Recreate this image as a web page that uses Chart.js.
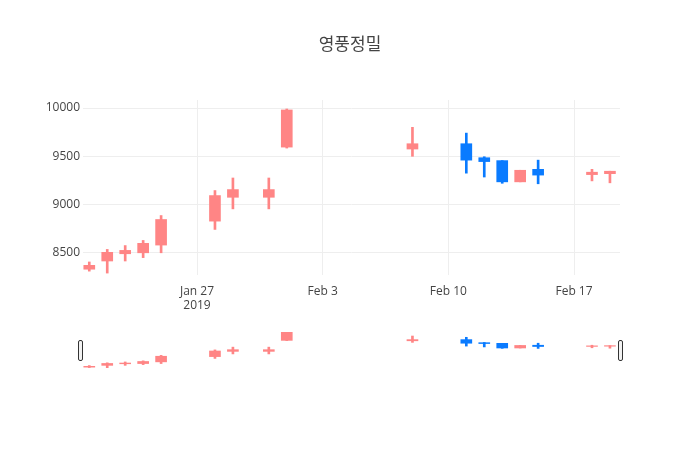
<!DOCTYPE html>
<html>
<head>
<meta charset="utf-8">
<script src="https://cdn.jsdelivr.net/npm/chart.js@4"></script>
<style>
  body { margin: 0; background: #fff; }
  #wrap { position: relative; width: 700px; height: 450px; }
  #main { position: absolute; left: 0; top: 0; }
  #slider { position: absolute; left: 0; top: 328px; }
</style>
</head>
<body>
<div id="wrap">
  <canvas id="main" width="700" height="310"></canvas>
  <canvas id="slider" width="700" height="46"></canvas>
</div>
<script>
// candlestick data
const dates = ['2019-01-21', '2019-01-22', '2019-01-23', '2019-01-24', '2019-01-25',
  '2019-01-28', '2019-01-29', '2019-01-31', '2019-02-01', '2019-02-08',
  '2019-02-11', '2019-02-12', '2019-02-13', '2019-02-14', '2019-02-15',
  '2019-02-18', '2019-02-19'];
const opens  = [8330, 8415, 8490, 8500, 8580, 8828, 9075, 9075, 9595, 9575, 9630, 9485, 9455, 9235, 9365, 9310, 9320];
const highs  = [8405, 8535, 8575, 8628, 8886, 9145, 9275, 9275, 9990, 9800, 9740, 9495, 9455, 9355, 9460, 9365, 9345];
const lows   = [8310, 8290, 8415, 8450, 8500, 8742, 8955, 8955, 9585, 9500, 9325, 9285, 9220, 9235, 9215, 9245, 9225];
const closes = [8370, 8505, 8525, 8598, 8845, 9093, 9155, 9155, 9980, 9630, 9460, 9445, 9235, 9355, 9305, 9335, 9345];
const xTicks = ['2019-01-27', '2019-02-03', '2019-02-10', '2019-02-17'];
const yTicks = [8500, 9000, 9500, 10000];

const DAY = 86400000;
const t = d => Date.parse(d + 'T00:00:00Z');
const xs = dates.map(t);
const xMin = t('2019-01-20') + 0.65 * DAY;
const xMax = t('2019-02-19') + 0.56 * DAY;
const UP = '#ff8585', DOWN = '#0a7bff';
const colors = opens.map((o, i) => closes[i] >= o ? UP : DOWN);
const months = ['Jan', 'Feb', 'Mar'];

function datasets(bodyW, wickW) {
  return [
    { data: xs.map((x, i) => ({ x: x, y: [lows[i], highs[i]] })), backgroundColor: colors,
      barThickness: wickW, grouped: false, order: 2 },
    { data: xs.map((x, i) => ({ x: x, y: [opens[i], closes[i]] })), backgroundColor: colors,
      barThickness: bodyW, grouped: false, order: 1 }
  ];
}

const titlePlugin = {
  id: 'titleText',
  afterDraw(chart) {
    const c = chart.ctx;
    c.save();
    c.fillStyle = '#444';
    c.font = '17px "Noto Sans CJK KR"';
    c.textAlign = 'center';
    c.textBaseline = 'middle';
    c.fillText('영풍정밀', 350, 44);
    c.restore();
  }
};

new Chart(document.getElementById('main'), {
  type: 'bar',
  data: { datasets: datasets(11, 2) },
  plugins: [titlePlugin],
  options: {
    responsive: false, animation: false,
    layout: { padding: { top: 100, right: 80, left: 0, bottom: 0 } },
    plugins: { legend: { display: false }, tooltip: { enabled: false } },
    scales: {
      x: {
        type: 'linear', min: xMin, max: xMax, offset: false,
        afterBuildTicks: s => { s.ticks = xTicks.map(d => ({ value: t(d) })); },
        afterFit: s => { s.height = 35; },
        grid: { color: '#eee', drawTicks: false, offset: false },
        border: { display: false },
        ticks: {
          color: '#444', font: { family: 'Open Sans', size: 12 }, padding: 9,
          callback: v => {
            const d = new Date(v);
            const lbl = months[d.getUTCMonth()] + ' ' + d.getUTCDate();
            return d.getUTCDate() === 27 ? [lbl, '2019'] : lbl;
          }
        }
      },
      y: {
        min: 8270, max: 10083,
        afterBuildTicks: s => { s.ticks = yTicks.map(v => ({ value: v })); },
        afterFit: s => { s.width = 83; },
        grid: { color: '#eee', drawTicks: false },
        border: { display: false },
        ticks: { color: '#444', font: { family: 'Open Sans', size: 12 }, padding: 3,
          callback: v => String(v) }
      }
    }
  }
});

const handlePlugin = {
  id: 'handles',
  afterDraw(chart) {
    const c = chart.ctx;
    c.save();
    c.strokeStyle = '#333';
    c.fillStyle = '#f2f2f2';
    c.lineWidth = 1;
    [78.5, 618.5].forEach(x => {
      c.beginPath();
      c.roundRect(x, 12.5, 4, 20, 1.5);
      c.fill();
      c.stroke();
    });
    c.restore();
  }
};

new Chart(document.getElementById('slider'), {
  type: 'bar',
  data: { datasets: datasets(11, 2) },
  plugins: [handlePlugin],
  options: {
    responsive: false, animation: false,
    layout: { padding: { top: 4, right: 80, left: 83, bottom: 6 } },
    plugins: { legend: { display: false }, tooltip: { enabled: false } },
    scales: {
      x: { type: 'linear', min: xMin, max: xMax, offset: false, display: false },
      y: { min: 8290, max: 9990, display: false }
    }
  }
});
</script>
</body>
</html>
